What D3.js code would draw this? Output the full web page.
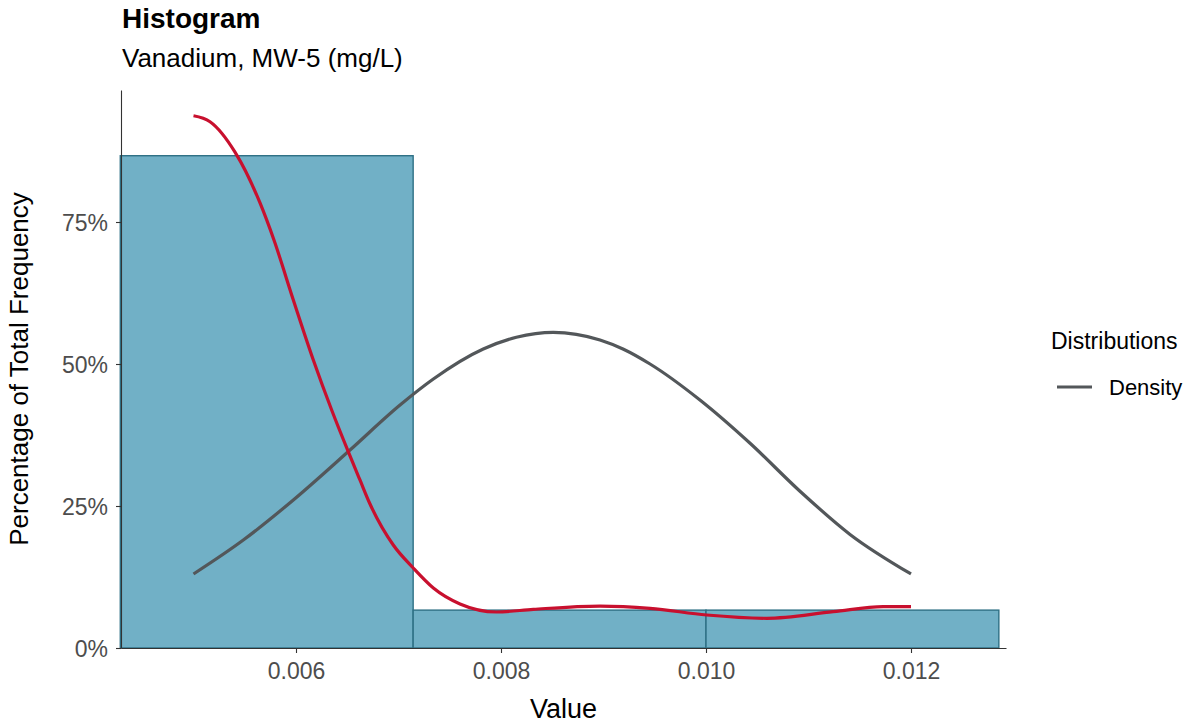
<!DOCTYPE html>
<html><head><meta charset="utf-8">
<script src="https://cdn.jsdelivr.net/npm/d3@7"></script>
<style>body{margin:0;background:#fff;font-family:"Liberation Sans",Arial,sans-serif;}</style>
</head><body>
<svg id="chart" width="1192" height="724" font-family="Liberation Sans, Arial, sans-serif"></svg>
<script>
// Histogram bins (value range) and percentage of total frequency
const binStart = [0.0042857, 0.0071429, 0.0100000];
const binEnd   = [0.0071429, 0.0100000, 0.0128571];
const binPct   = [86.67, 6.67, 6.67];

// Red curve (kernel density, scaled)
const redX = [0.00500,0.005161,0.005405,0.005649,0.005785,0.005974,0.006169,0.006348,0.00651,0.006624,0.006722,0.006949,0.007144,0.00734,0.0076,0.007958,0.008315,0.008966,0.009454,0.010007,0.010592,0.011242,0.01173,0.01200];
const redY = [93.7,92.66,87.3,78.35,71.83,61.27,50.70,41.90,34.56,29.58,25.35,18.13,14.08,10.56,7.75,6.34,6.81,7.39,6.99,5.81,5.23,6.39,7.27,7.27];

// Gray curve (Density)
const grayX = [0.0050,0.005486,0.005974,0.006527,0.007015,0.00734,0.007827,0.008150,0.00851,0.008966,0.009195,0.009454,0.009941,0.01043,0.010917,0.011405,0.0120];
const grayY = [13.03,19.01,26.06,34.86,42.78,47.36,52.64,54.7,55.58,54.23,52.6,50.0,43.66,36.04,27.6,20.0,13.03];

const xTicks = [0.006, 0.008, 0.010, 0.012];
const yTicks = [0, 25, 50, 75];

const svg = d3.select("#chart");
const L = 121, R = 1006, T = 90, B = 648;
const x = d3.scaleLinear().domain([0.0042927, 0.0129268]).range([L, R]);
const y = d3.scaleLinear().domain([0, 98.24]).range([B, T]);

// bars
svg.append("g").selectAll("rect").data(binPct).join("rect")
  .attr("x", (d,i) => x(binStart[i]))
  .attr("y", d => y(d))
  .attr("width", (d,i) => x(binEnd[i]) - x(binStart[i]))
  .attr("height", d => y(0) - y(d))
  .attr("fill", "#71b0c6")
  .attr("stroke", "#2e7085")
  .attr("stroke-width", 1.4);

const line = d3.line().x(d => x(d[0])).y(d => y(d[1])).curve(d3.curveMonotoneX);
svg.append("path").datum(grayX.map((v,i)=>[v,grayY[i]]))
  .attr("d", line).attr("fill","none").attr("stroke","#53575a").attr("stroke-width",3.2);
svg.append("path").datum(redX.map((v,i)=>[v,redY[i]]))
  .attr("d", line).attr("fill","none").attr("stroke","#c8102e").attr("stroke-width",3.2);

// axes
const xAxis = svg.append("g").attr("transform",`translate(0,${B})`)
  .call(d3.axisBottom(x).tickValues(xTicks).tickFormat(d3.format(".3f")).tickSize(5).tickSizeOuter(0));
const yAxis = svg.append("g").attr("transform",`translate(${L},0)`)
  .call(d3.axisLeft(y).tickValues(yTicks).tickFormat(d => d + "%").tickSize(5).tickSizeOuter(0));
[xAxis, yAxis].forEach(a => {
  a.attr("font-size", null).attr("font-family", null);
  a.select(".domain").attr("stroke","#333").attr("stroke-width",1.1);
  a.selectAll(".tick line").attr("stroke","#333").attr("stroke-width",1.1);
  a.selectAll(".tick text").attr("fill","#4d4d4d").style("font-size","23px");
});
xAxis.selectAll(".tick text").attr("dy","0").attr("y",31);
yAxis.selectAll(".tick text").attr("x",-13).attr("dy","0.36em");

// titles
svg.append("text").attr("x",122).attr("y",28).style("font-size","28px").attr("font-weight","bold").attr("fill","#000").text("Histogram");
svg.append("text").attr("x",122).attr("y",67).style("font-size","26px").attr("fill","#000").text("Vanadium, MW-5 (mg/L)");
svg.append("text").attr("x",(L+R)/2).attr("y",718).attr("text-anchor","middle").style("font-size","27px").attr("fill","#000").text("Value");
svg.append("text").attr("transform",`translate(28,${(T+B)/2}) rotate(-90)`).attr("text-anchor","middle").style("font-size","26px").attr("fill","#000").text("Percentage of Total Frequency");

// legend
svg.append("text").attr("x",1051).attr("y",349).style("font-size","23px").attr("fill","#000").text("Distributions");
svg.append("line").attr("x1",1057).attr("x2",1092).attr("y1",387).attr("y2",387).attr("stroke","#53575a").attr("stroke-width",3.2);
svg.append("text").attr("x",1109).attr("y",395).style("font-size","22px").attr("fill","#000").text("Density");
</script>
</body></html>
